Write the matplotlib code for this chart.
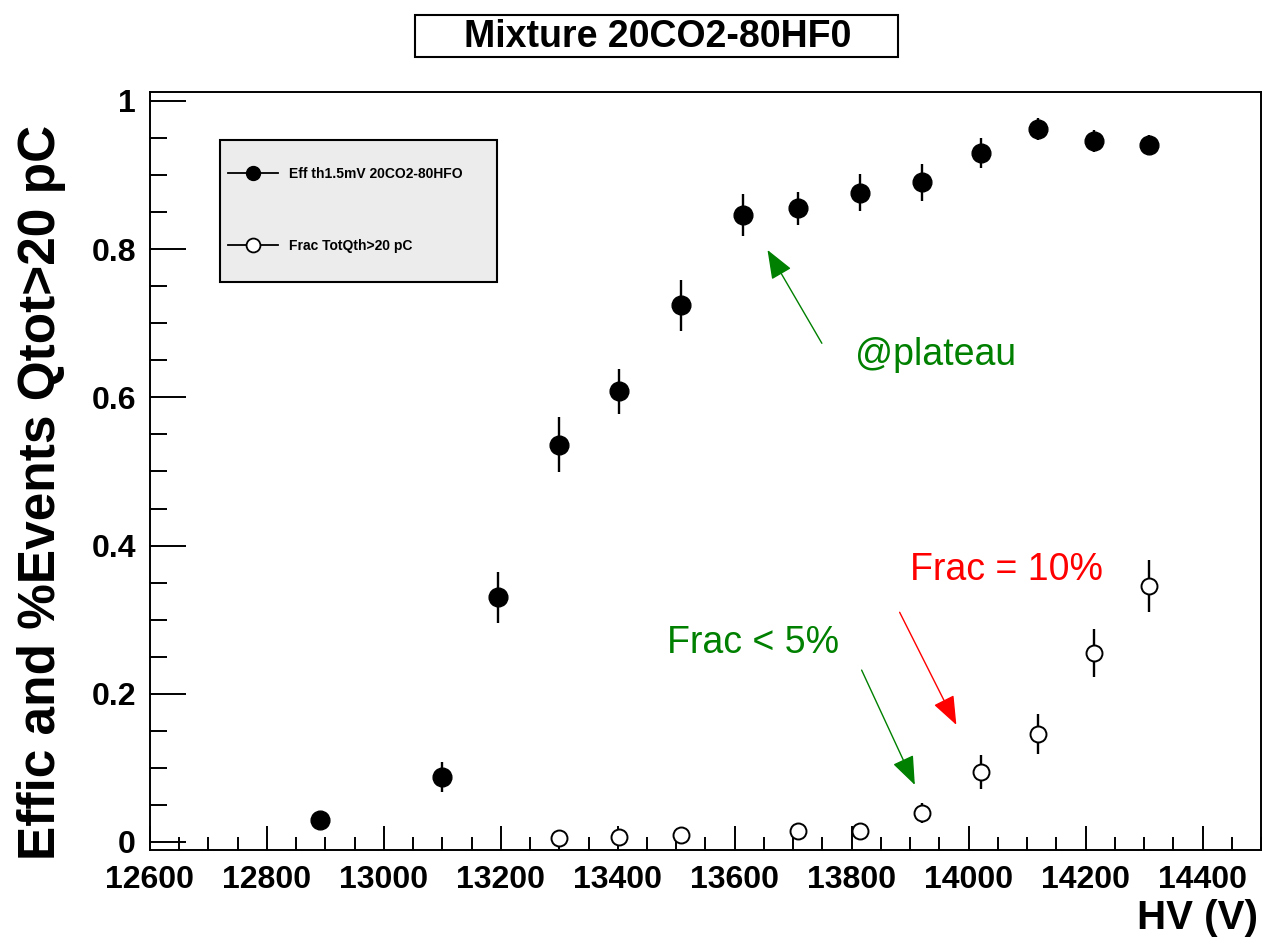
import numpy as np
import matplotlib
matplotlib.use("Agg")
import matplotlib.pyplot as plt
from matplotlib.lines import Line2D
from matplotlib.patches import Rectangle
from matplotlib.ticker import MultipleLocator

plt.rcParams['font.family'] = ['Liberation Sans', 'DejaVu Sans']

# efficiency, threshold 1.5 mV
hv_eff = [12890, 13100, 13195, 13300, 13402, 13508, 13614, 13708, 13814, 13920, 14022, 14118, 14214, 14309]
eff = [0.030, 0.088, 0.330, 0.536, 0.608, 0.724, 0.846, 0.855, 0.876, 0.890, 0.930, 0.962, 0.946, 0.941]
eff_err = [0.008, 0.020, 0.035, 0.037, 0.030, 0.034, 0.028, 0.022, 0.025, 0.025, 0.020, 0.015, 0.015, 0.013]

# fraction of events with total charge above 20 pC
hv_frac = [13300, 13402, 13508, 13708, 13814, 13920, 14022, 14118, 14214, 14309]
frac = [0.005, 0.007, 0.010, 0.015, 0.015, 0.039, 0.095, 0.146, 0.255, 0.345]
frac_err = [0.003, 0.004, 0.005, 0.006, 0.006, 0.013, 0.023, 0.027, 0.032, 0.035]

yticks = [0, 0.2, 0.4, 0.6, 0.8, 1.0]
ytick_labels = ['0', '0.2', '0.4', '0.6', '0.8', '1']
xticks = [12600, 12800, 13000, 13200, 13400, 13600, 13800, 14000, 14200, 14400]

W, H = 1263, 946
fig = plt.figure(figsize=(W / 100, H / 100), dpi=100)
ax = fig.add_axes([150 / W, 1 - 850 / H, 1111 / W, 758 / H])

ax.errorbar(hv_eff, eff, yerr=eff_err, fmt='o', color='black', ms=13.5,
            elinewidth=1.7, capsize=0, zorder=3)
ax.errorbar(hv_frac, frac, yerr=frac_err, fmt='o', color='black', mfc='white',
            mec='black', mew=1.4, ms=11.5, elinewidth=1.7, capsize=0, zorder=3)

ax.set_xlim(12600, 14500)
ax.set_ylim(-0.0108, 1.0121)
ax.set_xticks(xticks)
ax.xaxis.set_minor_locator(MultipleLocator(50))
ax.set_yticks(yticks)
ax.set_yticklabels(ytick_labels)
ax.yaxis.set_minor_locator(MultipleLocator(0.05))

ax.tick_params(axis='x', which='major', direction='in', length=17, width=1.4,
               labelsize=23, pad=11, top=False)
ax.tick_params(axis='x', which='minor', direction='in', length=9.5, width=1.4, top=False)
ax.tick_params(axis='y', which='major', direction='in', length=26, width=1.4,
               labelsize=23, pad=10, right=False)
ax.tick_params(axis='y', which='minor', direction='in', length=12, width=1.4, right=False)
for lab in ax.get_xticklabels() + ax.get_yticklabels():
    lab.set_fontweight('bold')
for sp in ax.spines.values():
    sp.set_linewidth(1.4)

# axis titles
fig.text(42 / W, 1 - 492 / H, 'Effic and %Events Qtot>20 pC', rotation=90,
         ha='center', va='center', fontsize=37, fontweight='bold')
fig.text(1258 / W, 1 - 918 / H, 'HV (V)', ha='right', va='center',
         fontsize=29, fontweight='bold')

# title box
fig.patches.append(Rectangle((415 / W, 1 - 57 / H), 483 / W, 42 / H,
                             transform=fig.transFigure, facecolor='white',
                             edgecolor='black', linewidth=1.5))
fig.text(658 / W, 1 - 37 / H, 'Mixture 20CO2-80HF0', ha='center', va='center',
         fontsize=27, fontweight='bold')

# legend: grey frame drawn separately, entries on top of it
ax.add_patch(Rectangle((220 / W, 1 - 282 / H), 277 / W, 142 / H,
                       transform=fig.transFigure, facecolor='#ececec',
                       edgecolor='black', linewidth=1.5, zorder=4, clip_on=False))
handles = [Line2D([], [], color='black', lw=1.3, marker='o', ms=10),
           Line2D([], [], color='black', lw=1.3, marker='o', ms=10, mfc='white', mew=1.3)]
leg = ax.legend(handles, ['Eff th1.5mV 20CO2-80HFO', 'Frac TotQth>20 pC'],
                loc='upper left', bbox_to_anchor=(228 / W, 1 - 167 / H),
                bbox_transform=fig.transFigure, frameon=False,
                prop={'size': 10, 'weight': 'bold'}, handlelength=3.6,
                handletextpad=0.8, borderpad=0, labelspacing=4.2, borderaxespad=0)
leg.set_zorder(5)

# annotations
green = '#008000'
arrow = '-|>,head_length=0.9,head_width=0.35'
ax.annotate('', xy=(13656, 0.799), xytext=(13749, 0.673),
            arrowprops=dict(arrowstyle=arrow, color=green, lw=1, mutation_scale=20,
                            shrinkA=0, shrinkB=0))
ax.text(13805, 0.657, '@plateau', color=green, fontsize=27, ha='left', va='center')

ax.annotate('', xy=(13908, 0.077), xytext=(13817, 0.232),
            arrowprops=dict(arrowstyle=arrow, color=green, lw=1, mutation_scale=20,
                            shrinkA=0, shrinkB=0))
ax.text(13632, 0.269, 'Frac < 5%', color=green, fontsize=27, ha='center', va='center')

ax.annotate('', xy=(13979, 0.158), xytext=(13882, 0.310),
            arrowprops=dict(arrowstyle=arrow, color='red', lw=1, mutation_scale=20,
                            shrinkA=0, shrinkB=0))
ax.text(14065, 0.367, 'Frac = 10%', color='red', fontsize=27, ha='center', va='center')

fig.savefig('out.png', dpi=100)
